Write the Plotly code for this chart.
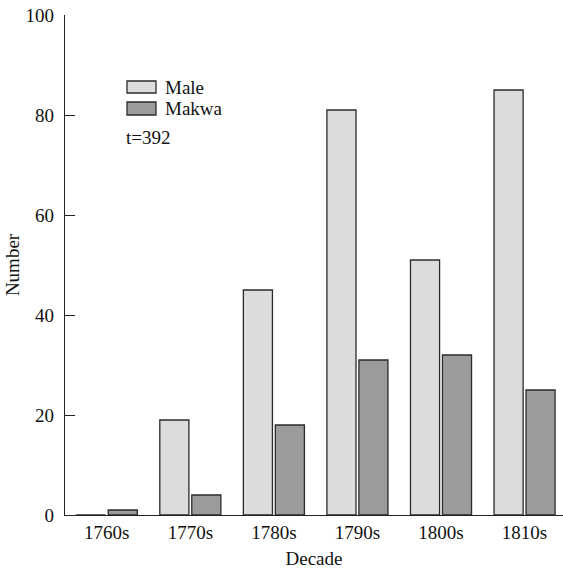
import plotly.graph_objects as go

# Counts per decade
decades = ["1760s", "1770s", "1780s", "1790s", "1800s", "1810s"]
male = [0, 19, 45, 81, 51, 85]
makwa = [1, 4, 18, 31, 32, 25]
total_label = "t=392"

y_ticks = [0, 20, 40, 60, 80, 100]

FONT = "Liberation Serif, Times New Roman, serif"
FS = 19
MALE_FILL = "#dcdcdc"
MAKWA_FILL = "#9b9b9b"
EDGE = "#2b2b2b"

fig = go.Figure()
fig.add_trace(go.Bar(x=decades, y=male, name="Male",
                     marker=dict(color=MALE_FILL, line=dict(color=EDGE, width=1.3)),
                     showlegend=False))
fig.add_trace(go.Bar(x=decades, y=makwa, name="Makwa",
                     marker=dict(color=MAKWA_FILL, line=dict(color=EDGE, width=1.3)),
                     showlegend=False))

# Plot area geometry (pixels) used to place the hand-drawn key
W, H = 563, 569
L, R, T, B = 65, 0, 15, 54
pw, ph = W - L - R, H - T - B


def px(x):
    return (x - L) / pw


def py(y):
    return (H - B - y) / ph


# Key: swatches and labels
key = [("Male", MALE_FILL, 81, 93), ("Makwa", MAKWA_FILL, 102, 115)]
shapes = []
annotations = []
for label, fill, top, bot in key:
    shapes.append(dict(type="rect", xref="paper", yref="paper",
                       x0=px(127), x1=px(156), y0=py(bot), y1=py(top),
                       fillcolor=fill, line=dict(color=EDGE, width=1.3)))
    annotations.append(dict(text=label, xref="paper", yref="paper",
                            x=px(163), y=py((top + bot) / 2), xanchor="left",
                            yanchor="middle", showarrow=False,
                            font=dict(family=FONT, size=FS, color="#111")))
annotations.append(dict(text=total_label, xref="paper", yref="paper",
                        x=px(124), y=py(137), xanchor="left", yanchor="middle",
                        showarrow=False, font=dict(family=FONT, size=FS, color="#111")))

fig.update_layout(
    width=W, height=H,
    margin=dict(l=L, r=R, t=T, b=B, pad=0),
    paper_bgcolor="white", plot_bgcolor="white",
    barmode="group", bargap=0.235, bargroupgap=0.09,
    font=dict(family=FONT, size=FS, color="#111"),
    shapes=shapes, annotations=annotations,
    xaxis=dict(
        range=[-0.5, 5.46], showgrid=False, zeroline=False,
        showline=True, linecolor="#222", linewidth=1.3,
        ticks="", tickfont=dict(family=FONT, size=FS, color="#111"),
        title=dict(text="Decade", standoff=11,
                   font=dict(family=FONT, size=FS, color="#111")),
    ),
    yaxis=dict(
        range=[0, 100], tickvals=y_ticks, showgrid=False, zeroline=False,
        showline=True, linecolor="#222", linewidth=1.3,
        ticks="inside", ticklen=10, tickcolor="#222", tickwidth=1.3,
        tickfont=dict(family=FONT, size=FS, color="#111"),
        ticklabelstandoff=6,
        title=dict(text="Number", standoff=0,
                   font=dict(family=FONT, size=FS, color="#111")),
    ),
)

fig.write_html("out.html")
